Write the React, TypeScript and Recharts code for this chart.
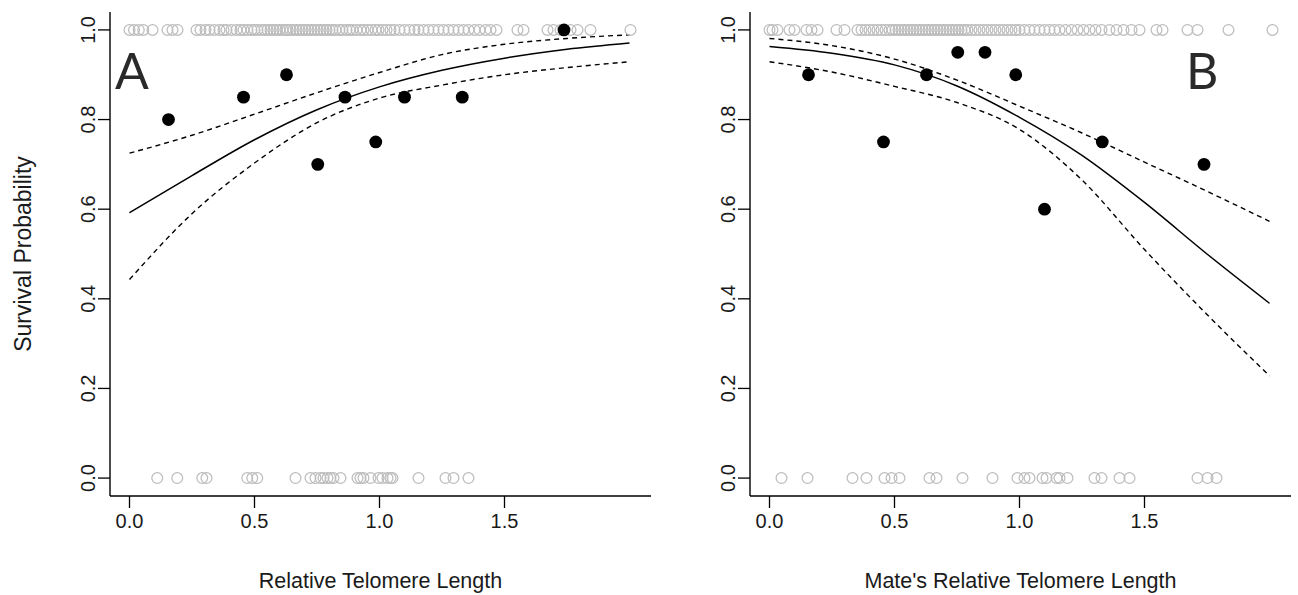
import React from 'react';
import { ComposedChart, XAxis, YAxis, Line, Scatter } from 'recharts';

// ---- data ----
const X_TICKS = [0, 0.5, 1, 1.5];
const Y_TICKS = [0, 0.2, 0.4, 0.6, 0.8, 1];
const X_DOMAIN: [number, number] = [-0.078, 2.086];
const Y_DOMAIN: [number, number] = [-0.04, 1.04];

// fitted curve sample positions
const CURVE_X = [0, 0.25, 0.5, 0.75, 1.0, 1.25, 1.5, 1.75, 2.0];
const A_FIT = [0.592, 0.675, 0.755, 0.822, 0.873, 0.91, 0.937, 0.957, 0.971];
const A_UPPER = [0.725, 0.765, 0.812, 0.86, 0.905, 0.945, 0.968, 0.981, 0.989];
const A_LOWER = [0.443, 0.59, 0.703, 0.793, 0.848, 0.877, 0.9, 0.916, 0.929];
const B_FIT = [0.963, 0.948, 0.922, 0.875, 0.805, 0.72, 0.615, 0.5, 0.39];
const B_UPPER = [0.981, 0.965, 0.935, 0.888, 0.83, 0.77, 0.705, 0.64, 0.573];
const B_LOWER = [0.929, 0.906, 0.874, 0.838, 0.778, 0.665, 0.51, 0.365, 0.228];

// binned means (black dots)
const BIN_X = [0.156, 0.456, 0.628, 0.753, 0.862, 0.985, 1.1, 1.331, 1.738];
const A_BIN_Y = [0.8, 0.85, 0.9, 0.7, 0.85, 0.75, 0.85, 0.85, 1.0];
const B_BIN_Y = [0.9, 0.75, 0.9, 0.95, 0.95, 0.9, 0.6, 0.75, 0.7];

// individual observations (grey circles)
const A_SURVIVED = [
  0.0, 0.018, 0.037, 0.055, 0.092, 0.152, 0.172, 0.192,
  0.268, 0.284, 0.304, 0.32, 0.34, 0.36, 0.376, 0.388, 0.408, 0.428, 0.444, 0.456,
  0.472, 0.488, 0.5, 0.512, 0.528, 0.54, 0.552, 0.564, 0.576, 0.588, 0.6, 0.612,
  0.624, 0.632, 0.644, 0.656, 0.668, 0.68, 0.692, 0.704, 0.716, 0.728, 0.74, 0.752,
  0.764, 0.776, 0.788, 0.8, 0.812, 0.824, 0.84, 0.852, 0.868, 0.88, 0.892, 0.908,
  0.924, 0.936, 0.952, 0.968, 0.984, 0.996, 1.012, 1.028, 1.044, 1.06, 1.08, 1.1,
  1.12, 1.14, 1.156, 1.176, 1.196, 1.216, 1.236, 1.256, 1.276, 1.296, 1.316, 1.336,
  1.356, 1.38, 1.4, 1.424, 1.444, 1.468,
  1.552, 1.576, 1.672, 1.696, 1.724, 1.764, 1.792, 1.844, 2.004,
];
const A_DIED = [
  0.111, 0.191, 0.291, 0.308, 0.471, 0.491, 0.511, 0.664, 0.724, 0.744, 0.764, 0.776,
  0.792, 0.804, 0.816, 0.844, 0.912, 0.924, 0.936, 0.964, 0.996, 1.012, 1.032, 1.044,
  1.052, 1.156, 1.264, 1.296, 1.356,
];
const B_SURVIVED = [
  0.0, 0.012, 0.032, 0.08, 0.1, 0.148, 0.168, 0.192, 0.268, 0.3,
  0.352, 0.368, 0.384, 0.4, 0.416, 0.432, 0.448, 0.464, 0.48, 0.492, 0.504, 0.516,
  0.528, 0.54, 0.552, 0.564, 0.576, 0.588, 0.6, 0.612, 0.624, 0.636, 0.648, 0.66,
  0.672, 0.684, 0.696, 0.708, 0.72, 0.732, 0.744, 0.756, 0.768, 0.78, 0.792, 0.808,
  0.824, 0.84, 0.856, 0.872, 0.888, 0.904, 0.92, 0.936, 0.952, 0.968, 0.984, 1.0,
  1.02, 1.04, 1.06, 1.08, 1.1, 1.12, 1.14, 1.16, 1.184, 1.208, 1.232, 1.256, 1.28,
  1.304, 1.328, 1.36, 1.388, 1.416, 1.448, 1.48,
  1.548, 1.572, 1.672, 1.712, 1.836, 2.012,
];
const B_DIED = [
  0.048, 0.152, 0.332, 0.388, 0.46, 0.488, 0.52, 0.64, 0.668, 0.772, 0.892, 0.992,
  1.02, 1.04, 1.092, 1.108, 1.148, 1.16, 1.192, 1.3, 1.328, 1.4, 1.44, 1.712, 1.752,
  1.788,
];

const X_TITLE_A = 'Relative Telomere Length';
const X_TITLE_B = "Mate's Relative Telomere Length";
const Y_TITLE = 'Survival Probability';

// ---- helpers ----
const pts = (xs: number[], ys: number[]) => xs.map((x, i) => ({ x, y: ys[i] }));
const row = (xs: number[], y: number) => xs.map((x) => ({ x, y }));

const FONT = '"Liberation Sans", Arial, Helvetica, sans-serif';
const TEXT = '#1a1a1a';

const XTick = (props: any) => {
  const { x, y, payload } = props;
  return (
    <text x={x} y={y + 13} textAnchor="middle" dominantBaseline="central" fontFamily={FONT} fontSize={20} fill={TEXT}>
      {Number(payload.value).toFixed(1)}
    </text>
  );
};

const YTick = (props: any) => {
  const { x, y, payload } = props;
  const cx = x - 10;
  return (
    <text
      x={cx}
      y={y}
      transform={`rotate(-90 ${cx} ${y})`}
      textAnchor="middle"
      dominantBaseline="central"
      fontFamily={FONT}
      fontSize={20}
      fill={TEXT}
    >
      {Number(payload.value).toFixed(1)}
    </text>
  );
};

const YTitle = (props: any) => {
  const vb = props.viewBox || { x: 0, y: 12, width: 110, height: 484 };
  const cx = vb.x + 23;
  const cy = vb.y + vb.height / 2;
  return (
    <text
      x={cx}
      y={cy}
      transform={`rotate(-90 ${cx} ${cy})`}
      textAnchor="middle"
      dominantBaseline="central"
      fontFamily={FONT}
      fontSize={23}
      fill={TEXT}
    >
      {Y_TITLE}
    </text>
  );
};

const greyCircle = (p: any) => (
  <circle cx={p.cx} cy={p.cy} r={5.4} fill="none" stroke="#bdbdbd" strokeWidth={1.25} />
);
const blackDot = (p: any) => <circle cx={p.cx} cy={p.cy} r={6.4} fill="#000" stroke="none" />;

interface PanelProps {
  fit: number[];
  upper: number[];
  lower: number[];
  binY: number[];
  survived: number[];
  died: number[];
  xTitle: string;
  showYTitle: boolean;
}

const Panel = ({ fit, upper, lower, binY, survived, died, xTitle, showYTitle }: PanelProps) => (
  <ComposedChart width={651} height={595} margin={{ top: 12, right: 0, bottom: 0, left: 0 }}>
    <XAxis
      type="number"
      dataKey="x"
      domain={X_DOMAIN}
      ticks={X_TICKS}
      allowDataOverflow
      height={99}
      tickSize={12}
      tickMargin={0}
      axisLine={{ stroke: '#000', strokeWidth: 1.4 }}
      tickLine={{ stroke: '#000', strokeWidth: 1.3 }}
      tick={<XTick />}
      label={{ value: xTitle, position: 'insideBottom', offset: 7, fill: TEXT, fontSize: 21.5, fontFamily: FONT }}
    />
    <YAxis
      type="number"
      dataKey="y"
      domain={Y_DOMAIN}
      ticks={Y_TICKS}
      allowDataOverflow
      width={110}
      tickSize={12}
      tickMargin={0}
      axisLine={{ stroke: '#000', strokeWidth: 1.4 }}
      tickLine={{ stroke: '#000', strokeWidth: 1.3 }}
      tick={<YTick />}
      label={showYTitle ? <YTitle /> : undefined}
    />
    <Scatter data={row(survived, 1)} dataKey="y" shape={greyCircle} isAnimationActive={false} />
    <Scatter data={row(died, 0)} dataKey="y" shape={greyCircle} isAnimationActive={false} />
    <Line data={pts(CURVE_X, upper)} dataKey="y" type="monotone" stroke="#000" strokeWidth={1.4} strokeDasharray="5 4" dot={false} activeDot={false} isAnimationActive={false} />
    <Line data={pts(CURVE_X, lower)} dataKey="y" type="monotone" stroke="#000" strokeWidth={1.4} strokeDasharray="5 4" dot={false} activeDot={false} isAnimationActive={false} />
    <Line data={pts(CURVE_X, fit)} dataKey="y" type="monotone" stroke="#000" strokeWidth={1.5} dot={false} activeDot={false} isAnimationActive={false} />
    <Scatter data={pts(BIN_X, binY)} dataKey="y" shape={blackDot} isAnimationActive={false} />
  </ComposedChart>
);

const letterStyle: React.CSSProperties = {
  position: 'absolute',
  top: 43,
  fontFamily: 'Lato, "Open Sans", sans-serif',
  fontSize: 50,
  lineHeight: '54px',
  color: '#2a2a2a',
};

export default function App() {
  return (
    <div style={{ position: 'absolute', left: 0, top: 0, width: 1298, height: 595, background: '#fff', overflow: 'hidden' }}>
      <div style={{ position: 'absolute', left: 0, top: 0 }}>
        <Panel fit={A_FIT} upper={A_UPPER} lower={A_LOWER} binY={A_BIN_Y} survived={A_SURVIVED} died={A_DIED} xTitle={X_TITLE_A} showYTitle />
      </div>
      <div style={{ position: 'absolute', left: 640, top: 0 }}>
        <Panel fit={B_FIT} upper={B_UPPER} lower={B_LOWER} binY={B_BIN_Y} survived={B_SURVIVED} died={B_DIED} xTitle={X_TITLE_B} showYTitle={false} />
      </div>
      <div style={{ ...letterStyle, left: 115 }}>A</div>
      <div style={{ ...letterStyle, left: 1186 }}>B</div>
    </div>
  );
}
